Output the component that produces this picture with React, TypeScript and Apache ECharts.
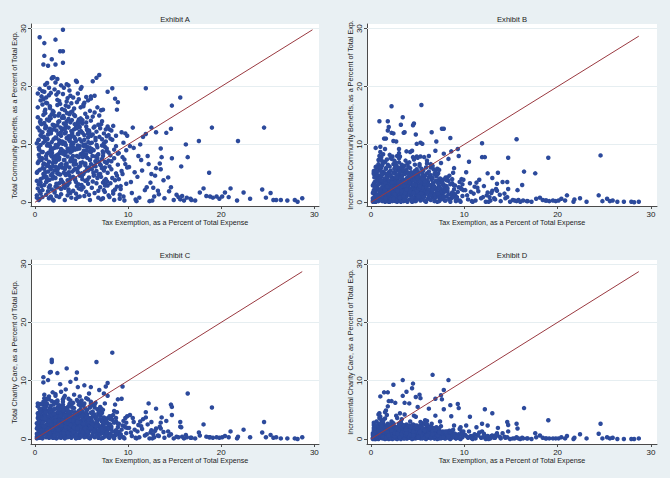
import React, { useEffect, useRef } from "react";
import * as echarts from "echarts";

// Tax exemption (% of total expense), shared by all four exhibits
const TAX_EXEMPTION = [
  0.3, 0.5, 0.8, 0.2, 0.6, 0.9, 0.4, 0.7, 0.3, 0.5,
  0.6, 0.2, 0.8, 0.4, 0.9, 0.5, 0.7, 0.3, 0.6, 0.8,
  0.4, 0.9, 0.2, 0.7, 0.5, 0.3, 0.8, 0.6, 0.4, 0.9,
  0.7, 0.5, 0.3, 0.9, 0.6, 0.2, 0.8, 0.4, 0.7, 0.5,
  0.9, 0.3, 0.6, 0.5, 0.8, 0.4, 0.2, 0.7, 0.9, 0.6,
  1.0, 1.3, 1.6, 1.8, 1.1, 1.4, 1.9, 1.2, 1.7, 1.5,
  1.4, 1.8, 1.1, 1.6, 1.3, 1.9, 1.0, 1.5, 1.2, 1.7,
  1.2, 1.5, 1.9, 1.0, 1.7, 1.3, 1.6, 1.8, 1.1, 1.4,
  1.6, 1.1, 1.4, 1.7, 1.9, 1.2, 1.5, 1.0, 1.8, 1.3,
  1.8, 1.3, 1.0, 1.5, 1.2, 1.6, 1.4, 1.9, 1.1, 1.7,
  1.1, 1.7, 1.5, 1.3, 1.8, 1.0, 1.2, 1.6, 1.4, 1.9,
  1.5, 1.2, 1.8, 1.9, 1.4, 1.7, 1.1, 1.3, 1.6, 1.0,
  2.0, 2.4, 2.7, 2.2, 2.9, 2.5, 2.1, 2.8, 2.3, 2.6,
  2.3, 2.8, 2.1, 2.6, 2.4, 2.0, 2.9, 2.2, 2.7, 2.5,
  2.6, 2.2, 2.5, 2.9, 2.1, 2.7, 2.4, 2.0, 2.8, 2.3,
  2.1, 2.5, 2.8, 2.4, 2.7, 2.3, 2.6, 2.9, 2.0, 2.2,
  2.9, 2.3, 2.0, 2.7, 2.2, 2.6, 2.8, 2.5, 2.4, 2.1,
  2.4, 2.7, 2.2, 2.0, 2.6, 2.9, 2.3, 2.1, 2.5, 2.8,
  2.7, 2.0, 2.6, 2.3, 2.8, 2.2, 2.5, 2.4, 2.9, 2.1,
  3.0, 3.3, 3.7, 3.1, 3.5, 3.9, 3.2, 3.6, 3.4, 3.8,
  3.4, 3.8, 3.0, 3.6, 3.2, 3.7, 3.5, 3.1, 3.9, 3.3,
  3.7, 3.1, 3.4, 3.9, 3.0, 3.5, 3.3, 3.8, 3.2, 3.6,
  3.2, 3.6, 3.9, 3.3, 3.8, 3.0, 3.7, 3.4, 3.5, 3.1,
  3.5, 3.0, 3.2, 3.8, 3.4, 3.6, 3.1, 3.9, 3.7, 3.3,
  3.9, 3.4, 3.6, 3.0, 3.3, 3.1, 3.8, 3.2, 3.6, 3.5,
  3.1, 3.7, 3.5, 3.2, 3.9, 3.4, 3.0, 3.3, 3.8, 3.6,
  4.0, 4.4, 4.7, 4.2, 4.9, 4.5, 4.1, 4.8, 4.3, 4.6,
  4.3, 4.8, 4.1, 4.6, 4.4, 4.0, 4.9, 4.2, 4.7, 4.5,
  4.6, 4.2, 4.5, 4.9, 4.1, 4.7, 4.4, 4.0, 4.8, 4.3,
  4.1, 4.5, 4.8, 4.4, 4.7, 4.3, 4.6, 4.9, 4.0, 4.2,
  4.9, 4.3, 4.0, 4.7, 4.2, 4.6, 4.8, 4.5, 4.4, 4.1,
  4.4, 4.7, 4.2, 4.0, 4.6, 4.9, 4.3, 4.1, 4.5, 4.8,
  5.0, 5.4, 5.7, 5.2, 5.9, 5.5, 5.1, 5.8, 5.3, 5.6,
  5.3, 5.8, 5.1, 5.6, 5.4, 5.0, 5.9, 5.2, 5.7, 5.5,
  5.6, 5.2, 5.5, 5.9, 5.1, 5.7, 5.4, 5.0, 5.8, 5.3,
  5.1, 5.5, 5.8, 5.4, 5.7, 5.3, 5.6, 5.9, 5.0, 5.2,
  5.9, 5.3, 5.0, 5.7, 5.2, 5.6, 5.8, 5.5, 5.4, 5.1,
  6.0, 6.4, 6.7, 6.2, 6.9, 6.5, 6.1, 6.8, 6.3, 6.6,
  6.3, 6.8, 6.1, 6.6, 6.4, 6.0, 6.9, 6.2, 6.7, 6.5,
  6.6, 6.2, 6.5, 6.9, 6.1, 6.7, 6.4, 6.0, 6.8, 6.3,
  6.1, 6.5, 6.8, 6.4, 6.7, 6.3, 6.6, 6.9, 6.0, 6.2,
  7.0, 7.4, 7.7, 7.2, 7.9, 7.5, 7.1, 7.8, 7.3, 7.6,
  7.3, 7.8, 7.1, 7.6, 7.4, 7.0, 7.9, 7.2, 7.7, 7.5,
  7.6, 7.2, 7.5, 7.9, 7.1, 7.7, 7.4, 7.0, 7.8, 7.3,
  7.1, 7.5, 7.8, 7.4, 7.7, 7.3, 7.6, 7.9, 7.0, 7.2,
  8.0, 8.4, 8.7, 8.2, 8.9, 8.5, 8.1, 8.8, 8.3, 8.6,
  8.3, 8.8, 8.1, 8.6, 8.4, 8.0, 8.9, 8.2, 8.7, 8.5,
  8.6, 8.2, 8.5, 8.9, 8.1, 8.7, 8.4, 8.0, 8.8, 8.3,
  9.0, 9.4, 9.7, 9.2, 9.9, 9.5, 9.1, 9.8, 9.3, 9.6,
  9.3, 9.8, 9.1, 9.6, 9.4, 9.0, 9.9, 9.2, 9.7, 9.5,
  10.1, 10.5, 10.9, 11.3, 11.9, 10.3, 11.1, 11.6, 10.7, 11.8,
  10.4, 11.0, 11.5, 10.2, 11.9, 10.8, 11.4, 12.0, 10.6, 11.2,
  12.1, 12.5, 12.9, 13.3, 13.6, 12.3, 13.0, 13.5, 12.7, 13.9,
  12.4, 12.2, 13.2, 13.5, 12.8, 13.4, 12.6, 13.8, 13.0, 12.5,
  14.1, 14.3, 14.6, 14.7, 15.2, 15.6, 15.7, 16.2, 16.4, 16.8,
  14.4, 14.7, 14.9, 15.4, 15.8, 15.6, 16.0, 16.3, 16.7, 14.6,
  17.6, 17.7, 18.1, 18.4, 18.7, 18.8, 19.0, 19.1, 19.5, 20.1,
  20.4, 21.0, 21.7, 21.8, 22.4, 23.1, 24.4, 24.6, 24.8, 25.3,
  25.6, 25.9, 26.4, 27.1, 27.9, 28.2, 28.7, 17.2, 19.8, 20.8,
  0.45, 0.85, 1.22, 1.68, 2.07, 2.43, 2.86, 3.21, 3.64, 4.08,
  4.41, 4.87, 5.26, 5.63, 6.04, 6.48, 6.83, 7.27, 0.62, 1.04,
  1.47, 1.83, 2.26, 2.61, 3.07, 3.44, 3.86, 4.23, 4.66, 5.03,
  5.48, 5.84, 6.27, 6.62, 7.06, 7.43, 0.36, 0.77, 1.13, 1.56,
  1.94, 2.37, 2.73, 3.16, 3.53, 3.97, 4.32, 4.76, 5.14, 5.57,
  5.93, 6.36, 6.74, 7.18, 7.52, 0.54, 0.96, 1.33, 1.76, 2.14,
  2.53, 2.97, 3.34, 3.77, 4.16, 4.52, 4.94, 5.36, 5.73, 6.17,
  6.56, 6.92, 7.33, 7.74, 0.27, 1.26, 2.23, 3.28, 4.27, 5.24,
  1.06, 2.04, 3.03, 4.07, 5.08, 6.02, 1.53, 2.56, 3.57, 4.54,
  1.74, 2.76, 3.73, 4.73, 5.77, 0.83, 1.87, 2.84, 3.83, 4.86,
];

// Exhibit A: total community benefits (% of total expense)
const TOTAL_COMMUNITY_BENEFITS = [
  6.8, 28.5, 12.1, 1.2, 17.6, 4.3, 9.5, 2.8, 14.7, 0.6,
  3.4, 5.1, 19.2, 10.8, 23.8, 1.9, 7.3, 16.4, 11.6, 0.9,
  8.2, 15.1, 3.7, 18.3, 5.6, 12.9, 2.1, 9.9, 0.4, 6.5,
  13.5, 7.8, 18.8, 4.9, 1.5, 10.2, 16.9, 3.1, 8.7, 12.4,
  10.3, 2.4, 14.2, 19.6, 5.9, 7.1, 0.8, 11.4, 17.8, 4.0,
  27.5, 8.4, 12.7, 21.4, 5.2, 23.6, 15.8, 1.3, 9.1, 18.5,
  3.8, 24.7, 10.6, 6.1, 14.3, 21.6, 25.3, 0.7, 17.2, 11.9,
  7.5, 2.6, 13.4, 19.1, 4.7, 11.0, 16.6, 8.9, 20.3, 5.3,
  9.7, 15.4, 1.9, 12.2, 6.8, 3.5, 19.8, 13.7, 7.9, 17.1,
  2.2, 6.3, 11.3, 8.6, 18.1, 14.8, 10.1, 4.1, 16.0, 1.0,
  12.8, 5.7, 14.1, 20.6, 10.4, 3.0, 8.0, 2.9, 6.6, 9.3,
  7.0, 13.0, 15.2, 0.5, 11.7, 18.9, 4.5, 9.8, 16.3, 5.8,
  10.9, 5.0, 26.1, 28.1, 14.6, 8.3, 1.7, 20.2, 12.4, 3.3,
  7.2, 11.5, 19.5, 0.9, 16.8, 4.4, 9.0, 23.8, 6.4, 13.9,
  17.5, 2.7, 10.0, 6.0, 13.1, 8.7, 21.3, 15.6, 3.9, 11.1,
  5.5, 15.0, 1.4, 9.6, 12.0, 18.6, 7.7, 10.5, 21.6, 4.2,
  3.6, 8.1, 12.6, 17.0, 6.9, 14.0, 2.3, 11.8, 5.4, 9.4,
  13.3, 4.8, 20.7, 7.4, 10.7, 16.1, 1.1, 14.9, 19.0, 8.5,
  6.2, 0.3, 15.3, 3.2, 9.2, 11.2, 5.9, 17.7, 12.5, 2.0,
  29.8, 9.9, 4.6, 13.6, 18.0, 7.6, 2.5, 11.4, 20.4, 15.5,
  6.7, 1.6, 26.1, 14.4, 10.3, 19.3, 3.0, 8.8, 12.3, 16.7,
  10.8, 5.1, 17.4, 0.8, 24.1, 7.9, 13.2, 4.0, 11.9, 2.2,
  15.9, 9.0, 11.6, 6.5, 18.4, 12.7, 3.4, 14.0, 1.2, 7.3,
  5.0, 10.4, 8.2, 13.8, 2.9, 16.5, 19.8, 9.6, 6.0, 12.1,
  17.1, 11.1, 1.9, 8.4, 4.7, 14.6, 7.1, 0.4, 12.9, 3.8,
  2.7, 15.2, 9.3, 5.7, 10.0, 6.3, 18.7, 13.5, 8.6, 20.2,
  8.9, 21.0, 3.1, 12.6, 6.8, 17.3, 10.2, 1.0, 14.9, 5.2,
  4.1, 9.7, 18.1, 13.9, 0.6, 7.5, 16.4, 11.3, 2.4, 20.8,
  11.8, 5.6, 8.0, 19.6, 2.0, 14.3, 6.6, 15.7, 12.2, 9.1,
  7.0, 2.8, 13.0, 10.6, 17.8, 3.9, 0.9, 8.3, 12.0, 16.2,
  14.5, 11.0, 5.3, 7.8, 9.4, 18.8, 4.6, 12.8, 1.5, 10.1,
  3.5, 6.1, 15.1, 11.5, 9.8, 2.3, 7.2, 4.4, 13.4, 10.9,
  19.9, 6.4, 11.2, 2.6, 15.8, 9.0, 13.6, 4.3, 17.2, 7.7,
  1.1, 12.4, 8.5, 14.7, 3.7, 10.5, 7.3, 16.6, 5.5, 18.2,
  9.6, 4.9, 13.1, 0.4, 6.9, 11.9, 15.3, 2.2, 8.8, 10.8,
  14.2, 1.8, 6.0, 10.0, 3.2, 8.1, 12.5, 9.4, 5.0, 16.9,
  7.4, 11.6, 3.0, 17.6, 9.9, 5.8, 1.3, 13.8, 6.7, 12.0,
  8.7, 15.5, 4.2, 20.9, 22.0, 10.7, 2.5, 13.4, 6.3, 21.5,
  12.9, 0.8, 9.2, 5.4, 18.4, 14.1, 7.0, 3.6, 16.4, 11.1,
  3.3, 11.7, 7.9, 15.0, 5.7, 9.5, 1.6, 17.9, 8.3, 4.6,
  10.3, 6.2, 2.0, 13.1, 7.6, 9.0, 12.2, 4.8, 18.3, 14.8,
  6.5, 2.1, 11.4, 14.0, 7.2, 9.6, 4.4, 19.1, 0.7, 12.6,
  8.0, 5.1, 15.9, 3.0, 10.2, 12.8, 1.2, 7.5, 9.3, 6.0,
  4.0, 10.9, 1.8, 8.6, 13.5, 6.8, 11.9, 2.6, 13.1, 16.0,
  0.5, 7.0, 2.9, 5.5, 8.9, 3.4, 10.5, 11.6, 4.9, 9.8,
  6.2, 1.5, 9.7, 12.4, 17.3, 7.6, 3.3, 16.0, 19.7, 17.9,
  10.8, 4.6, 8.1, 2.2, 13.2, 0.9, 6.5, 5.7, 11.5, 9.1,
  3.8, 7.1, 0.4, 8.4, 11.0, 5.0, 1.9, 12.6, 2.7, 4.2,
  8.5, 4.9, 11.9, 2.3, 6.0, 10.3, 0.6, 3.2, 12.1, 7.4,
  5.4, 9.0, 1.3, 0.3, 7.8, 4.0, 11.5, 2.8, 6.6, 1.0,
  6.1, 12.9, 0.2, 10.0, 19.7, 3.5, 8.0, 11.3, 5.2, 2.1,
  1.6, 4.4, 5.5, 9.7, 11.8, 0.5, 7.3, 2.6, 9.4, 0.8,
  8.0, 12.9, 4.6, 1.4, 7.8, 0.2, 5.9, 9.3, 2.5, 0.7,
  3.4, 6.6, 2.0, 5.7, 1.0, 6.7, 0.3, 3.8, 12.1, 4.9,
  12.0, 4.3, 12.7, 16.7, 1.3, 18.1, 6.2, 10.0, 7.8, 0.4,
  1.9, 7.6, 0.4, 0.9, 1.1, 0.5, 0.3, 0.8, 0.6, 2.6,
  10.6, 1.7, 2.4, 1.1, 5.1, 1.0, 12.9, 0.8, 1.0, 1.0,
  1.7, 2.4, 0.3, 10.6, 1.7, 0.6, 2.2, 12.9, 0.8, 1.6,
  0.4, 0.4, 0.4, 0.3, 0.4, 0.1, 0.7, 0.3, 0.6, 0.9,
  9.1, 11.3, 4.4, 14.5, 7.9, 2.6, 10.3, 12.7, 5.2, 8.0,
  13.0, 6.3, 9.7, 3.9, 11.5, 7.1, 4.8, 8.8, 13.6, 15.7,
  12.3, 8.5, 6.1, 10.2, 3.3, 15.4, 9.2, 6.9, 11.8, 4.5,
  8.3, 12.1, 5.1, 9.9, 6.4, 3.7, 10.7, 7.6, 13.2, 3.9,
  6.2, 9.5, 12.9, 7.3, 11.0, 14.2, 5.8, 9.3, 7.8, 12.6,
  10.2, 4.7, 8.2, 5.9, 2.9, 13.9, 6.7, 10.9, 12.5, 7.7,
  4.9, 10.1, 8.7, 11.2, 6.5, 9.2, 12.3, 5.3, 10.4, 8.0,
  6.9, 11.3, 8.5, 3.6, 5.3, 4.1, 9.9, 6.1, 13.5, 8.9,
  11.0, 13.3, 14.9, 10.3, 4.0, 6.6, 10.0, 7.4, 9.0, 5.7,
  8.1, 12.0, 10.6, 13.7, 11.8, 8.7, 5.0, 6.6, 7.3, 14.0,
];

// Exhibit B: incremental community benefits
const INCREMENTAL_COMMUNITY_BENEFITS = [
  2.1, 9.4, 4.6, 0.3, 6.2, 1.2, 3.5, 0.6, 5.1, 0.1,
  0.9, 1.6, 7.3, 2.8, 14.0, 0.4, 2.4, 4.9, 3.7, 0.2,
  1.8, 5.6, 0.7, 6.0, 1.3, 3.2, 0.5, 2.6, 0.1, 1.9,
  4.2, 2.0, 5.4, 0.8, 0.2, 2.9, 6.6, 1.0, 3.0, 4.4,
  3.3, 0.6, 4.8, 6.1, 1.4, 2.2, 0.1, 3.8, 8.0, 1.1,
  9.6, 2.5, 4.0, 14.0, 1.1, 11.0, 5.2, 0.2, 3.1, 7.0,
  0.9, 12.4, 3.6, 1.7, 5.3, 13.0, 8.7, 0.1, 6.4, 4.1,
  2.3, 0.6, 4.7, 7.5, 1.2, 3.4, 11.0, 2.8, 7.8, 1.5,
  3.0, 6.0, 0.4, 4.5, 2.0, 0.9, 9.2, 5.5, 2.4, 6.8,
  0.5, 1.8, 3.9, 2.7, 7.1, 5.9, 3.2, 0.8, 6.3, 0.2,
  4.4, 1.3, 5.0, 8.3, 3.5, 0.7, 2.6, 0.3, 1.9, 2.9,
  2.2, 4.8, 6.5, 0.1, 3.8, 7.4, 1.0, 3.1, 5.8, 1.6,
  3.7, 1.4, 10.5, 16.6, 5.6, 2.7, 0.3, 8.0, 4.3, 0.8,
  2.1, 4.0, 7.7, 0.2, 6.6, 1.1, 2.9, 12.0, 1.8, 5.0,
  6.9, 0.6, 3.3, 1.5, 4.6, 2.6, 10.6, 6.2, 0.9, 3.8,
  1.3, 5.8, 0.1, 3.0, 4.2, 7.9, 2.2, 3.6, 8.2, 1.0,
  0.7, 2.5, 4.9, 6.4, 1.9, 5.2, 0.3, 4.1, 1.4, 3.1,
  5.1, 1.2, 7.5, 2.0, 3.4, 6.0, 0.2, 5.5, 7.2, 2.7,
  1.6, 0.1, 6.2, 0.8, 2.9, 4.0, 1.7, 11.9, 4.7, 0.5,
  8.5, 3.1, 1.0, 4.8, 12.0, 2.3, 0.5, 3.7, 14.7, 5.6,
  2.0, 0.3, 7.6, 5.0, 13.4, 7.2, 0.8, 2.7, 4.1, 6.5,
  3.9, 1.4, 6.0, 0.1, 9.2, 2.4, 4.6, 1.1, 3.5, 0.6,
  5.9, 2.8, 4.3, 1.9, 8.8, 4.5, 0.9, 5.3, 0.2, 2.2,
  1.5, 3.6, 2.5, 5.1, 0.7, 6.3, 7.9, 3.0, 1.8, 4.0,
  6.7, 3.8, 0.4, 2.6, 1.2, 5.7, 2.1, 0.1, 4.9, 1.0,
  0.8, 5.4, 3.1, 1.7, 3.6, 2.0, 6.9, 4.4, 2.8, 12.1,
  2.9, 8.9, 0.9, 4.1, 2.2, 13.3, 3.4, 0.2, 5.2, 1.6,
  1.1, 3.3, 6.9, 13.6, 0.1, 2.5, 10.1, 4.0, 0.7, 7.8,
  4.3, 1.7, 2.6, 7.9, 0.5, 5.4, 2.0, 6.1, 4.7, 3.1,
  2.4, 0.8, 5.0, 3.7, 6.5, 1.2, 0.2, 2.9, 4.4, 8.7,
  5.7, 3.9, 1.6, 2.7, 3.2, 7.4, 1.4, 4.8, 0.3, 3.6,
  0.9, 2.1, 5.9, 3.8, 3.0, 0.6, 2.3, 1.3, 4.9, 11.7,
  7.7, 16.8, 4.0, 0.7, 6.0, 3.2, 4.9, 1.4, 10.3, 2.6,
  0.3, 4.6, 2.9, 5.5, 1.1, 3.6, 2.4, 6.3, 1.8, 10.1,
  3.3, 1.6, 4.4, 0.1, 2.2, 4.1, 5.8, 0.6, 3.0, 7.9,
  5.2, 0.5, 2.0, 3.5, 0.9, 2.7, 4.7, 3.4, 1.5, 6.6,
  2.5, 4.2, 0.8, 7.8, 3.8, 1.9, 0.2, 5.1, 2.1, 4.5,
  2.8, 6.0, 1.2, 8.0, 8.9, 12.1, 0.6, 4.9, 2.0, 6.3,
  4.6, 0.2, 3.1, 1.6, 6.6, 5.0, 2.3, 1.0, 5.7, 3.9,
  0.9, 4.3, 2.6, 5.4, 1.8, 3.3, 0.4, 6.7, 2.7, 1.4,
  3.5, 1.9, 0.5, 4.7, 2.5, 3.0, 4.2, 1.3, 7.2, 5.3,
  10.5, 0.6, 3.9, 5.0, 2.4, 3.4, 1.4, 12.7, 0.2, 12.7,
  2.7, 1.7, 5.8, 0.8, 3.6, 4.5, 0.3, 2.5, 3.2, 6.8,
  1.3, 3.8, 0.5, 2.9, 4.8, 2.2, 4.1, 0.9, 8.4, 5.6,
  0.1, 2.3, 1.0, 1.8, 3.0, 1.1, 3.5, 4.0, 1.6, 3.3,
  2.0, 0.5, 3.3, 4.3, 5.9, 11.1, 1.0, 5.1, 7.5, 8.8,
  3.7, 1.5, 2.8, 0.7, 4.6, 0.3, 2.2, 1.9, 4.0, 3.1,
  1.3, 2.4, 0.1, 2.9, 3.8, 1.7, 0.6, 4.3, 0.9, 1.4,
  2.9, 8.0, 4.0, 0.8, 2.1, 3.5, 0.2, 1.1, 9.2, 2.5,
  1.8, 3.1, 0.4, 0.1, 2.6, 1.4, 3.9, 0.9, 2.3, 0.3,
  2.1, 7.0, 0.1, 3.4, 10.2, 1.2, 2.7, 3.9, 1.8, 0.7,
  0.5, 1.5, 1.9, 5.2, 7.8, 0.2, 2.5, 0.9, 3.3, 0.3,
  2.8, 5.0, 1.6, 0.5, 5.1, 0.1, 2.0, 3.2, 0.9, 0.2,
  1.2, 7.8, 0.7, 2.0, 0.3, 2.3, 0.1, 1.3, 4.2, 1.7,
  3.5, 1.5, 3.5, 7.7, 0.4, 10.9, 2.1, 3.0, 5.3, 0.2,
  0.7, 2.3, 0.1, 0.3, 0.4, 0.2, 0.1, 0.3, 0.2, 0.9,
  5.0, 0.6, 0.8, 0.4, 0.3, 0.3, 7.7, 0.2, 0.3, 0.3,
  0.6, 1.2, 0.1, 0.5, 0.7, 0.1, 1.2, 8.1, 0.2, 0.6,
  0.2, 0.3, 0.1, 0.1, 0.1, 0.0, 0.1, 0.1, 0.2, 0.3,
  2.6, 3.9, 1.1, 4.8, 2.9, 0.6, 3.3, 4.2, 1.6, 2.4,
  4.5, 1.9, 3.1, 1.0, 3.8, 2.2, 1.3, 2.7, 5.2, 6.0,
  4.1, 3.0, 1.8, 3.5, 0.8, 5.6, 2.9, 2.0, 3.9, 1.2,
  2.5, 3.6, 1.4, 3.2, 1.9, 0.9, 4.3, 2.3, 5.0, 0.7,
  1.7, 3.4, 4.6, 2.1, 3.7, 5.1, 1.6, 3.0, 2.4, 4.0,
  3.1, 1.2, 2.6, 1.5, 0.6, 5.4, 2.0, 3.6, 4.4, 2.3,
  1.4, 3.5, 2.8, 4.0, 1.8, 3.1, 4.2, 1.5, 3.3, 2.2,
  2.0, 3.7, 2.5, 0.9, 1.8, 1.3, 3.4, 1.9, 4.7, 2.8,
  3.8, 4.6, 5.3, 3.4, 1.0, 1.7, 3.3, 2.4, 2.9, 1.6,
  2.7, 4.3, 3.5, 4.9, 3.6, 3.1, 1.5, 2.0, 2.2, 5.1,
];

// Exhibit C: total charity care
const TOTAL_CHARITY_CARE = [
  2.4, 5.2, 3.9, 0.4, 6.0, 1.1, 2.9, 0.7, 4.4, 0.2,
  1.0, 1.8, 4.8, 3.3, 10.6, 0.5, 2.1, 5.6, 3.0, 0.1,
  1.5, 9.7, 0.9, 5.1, 1.3, 3.6, 0.6, 2.5, 0.2, 2.0,
  4.0, 1.7, 6.1, 0.8, 0.3, 2.7, 5.9, 1.2, 3.4, 4.6,
  3.1, 0.8, 4.2, 3.8, 1.6, 2.2, 0.1, 3.7, 6.4, 1.4,
  7.6, 2.3, 4.5, 13.6, 1.0, 10.1, 5.0, 0.3, 2.8, 6.8,
  1.1, 13.2, 3.2, 1.9, 4.9, 8.0, 7.0, 0.2, 5.6, 11.5,
  2.0, 0.7, 4.1, 5.4, 1.5, 3.7, 11.4, 2.6, 6.6, 1.8,
  3.3, 5.0, 0.5, 4.3, 2.1, 1.2, 7.3, 4.4, 2.9, 6.0,
  0.8, 2.2, 3.5, 2.6, 6.2, 5.3, 3.0, 1.3, 5.8, 0.4,
  4.2, 1.4, 4.7, 6.9, 3.6, 0.9, 2.4, 0.3, 1.7, 2.7,
  2.5, 4.6, 6.5, 0.2, 3.9, 5.7, 1.2, 3.1, 4.9, 1.6,
  3.4, 1.6, 9.4, 7.7, 4.8, 2.5, 0.4, 8.1, 4.0, 1.0,
  2.2, 3.8, 6.3, 0.3, 11.3, 1.3, 2.9, 7.4, 1.9, 4.5,
  5.8, 0.7, 3.1, 1.7, 4.3, 2.6, 6.6, 5.1, 1.0, 3.6,
  1.5, 5.5, 0.2, 2.8, 4.1, 6.2, 2.0, 3.3, 5.9, 1.1,
  0.9, 2.7, 4.4, 5.3, 1.8, 4.9, 0.5, 3.9, 1.4, 3.0,
  4.6, 1.2, 5.2, 2.1, 3.5, 4.8, 0.1, 4.2, 5.6, 2.4,
  1.8, 0.2, 5.0, 0.9, 2.6, 3.8, 1.6, 6.4, 3.2, 0.6,
  6.8, 2.9, 1.1, 4.3, 5.4, 2.0, 0.6, 3.5, 12.1, 9.8,
  2.2, 0.4, 5.9, 4.6, 7.4, 6.0, 0.8, 2.5, 3.7, 8.5,
  3.6, 1.3, 5.2, 0.2, 6.4, 2.1, 4.1, 1.0, 3.3, 0.5,
  5.3, 2.7, 3.9, 1.8, 6.6, 4.2, 0.9, 4.8, 0.3, 2.0,
  1.4, 3.2, 2.4, 4.5, 0.7, 5.6, 7.1, 2.8, 1.7, 3.7,
  5.8, 3.4, 0.4, 2.3, 1.1, 4.9, 2.0, 0.1, 4.3, 1.0,
  0.7, 4.7, 2.9, 1.5, 3.1, 1.9, 5.5, 3.9, 2.6, 6.9,
  2.6, 10.3, 0.8, 3.7, 2.0, 11.4, 3.0, 0.2, 4.6, 1.5,
  1.0, 3.0, 6.2, 8.9, 0.1, 2.3, 5.7, 3.6, 0.6, 6.7,
  3.9, 1.6, 2.4, 6.3, 0.5, 4.8, 1.8, 5.4, 4.2, 2.8,
  2.1, 0.7, 4.5, 3.3, 5.9, 1.1, 0.2, 2.6, 4.0, 7.6,
  5.1, 3.5, 1.4, 2.4, 2.9, 6.5, 1.3, 4.3, 0.3, 3.2,
  0.8, 1.9, 5.3, 3.4, 2.7, 0.5, 2.1, 1.2, 4.4, 7.3,
  6.6, 4.2, 3.6, 0.6, 5.4, 2.9, 4.4, 1.3, 9.2, 2.3,
  0.3, 7.8, 2.6, 5.0, 1.0, 3.2, 2.2, 5.7, 1.6, 7.0,
  3.0, 1.4, 4.0, 0.1, 2.0, 3.7, 5.2, 0.5, 2.7, 6.1,
  4.7, 0.4, 1.8, 3.1, 0.8, 2.4, 4.2, 3.0, 1.3, 5.9,
  2.2, 3.8, 0.7, 6.8, 3.4, 1.7, 0.2, 4.6, 1.9, 4.1,
  8.9, 5.4, 1.1, 5.8, 8.4, 6.2, 0.5, 4.4, 1.8, 13.2,
  4.1, 0.2, 2.8, 1.4, 5.9, 4.5, 2.1, 0.9, 5.1, 3.5,
  0.8, 3.9, 2.3, 4.8, 1.6, 3.0, 0.3, 6.0, 2.4, 1.2,
  3.1, 1.7, 0.4, 4.2, 2.2, 2.7, 3.8, 1.1, 6.4, 4.7,
  5.5, 7.8, 3.5, 4.5, 2.1, 3.0, 1.2, 9.6, 0.2, 9.0,
  2.4, 1.5, 5.2, 0.7, 3.2, 4.0, 0.3, 2.2, 2.9, 6.1,
  1.1, 3.4, 0.4, 2.6, 4.3, 1.9, 3.7, 0.8, 7.4, 5.0,
  0.1, 2.0, 0.9, 1.6, 2.7, 1.0, 3.1, 3.6, 1.4, 3.0,
  1.8, 0.4, 3.0, 3.9, 6.8, 4.8, 0.9, 4.6, 14.8, 5.9,
  3.3, 1.3, 2.5, 0.6, 4.1, 0.2, 2.0, 1.7, 3.6, 2.8,
  1.2, 2.1, 0.1, 2.6, 3.4, 1.5, 0.5, 3.9, 0.8, 1.3,
  2.6, 9.0, 3.6, 0.7, 1.9, 3.1, 0.2, 1.0, 6.9, 2.2,
  1.6, 2.8, 0.4, 0.1, 2.3, 1.2, 3.9, 0.8, 2.0, 0.3,
  1.9, 3.6, 0.1, 3.0, 4.6, 1.1, 2.4, 3.4, 1.6, 0.6,
  0.5, 1.3, 1.7, 4.1, 3.7, 0.2, 2.2, 0.8, 2.9, 0.3,
  2.5, 2.9, 1.4, 0.5, 3.7, 0.1, 1.8, 2.8, 0.8, 0.2,
  1.1, 6.1, 0.6, 1.8, 0.3, 2.1, 0.1, 1.2, 5.2, 1.5,
  3.1, 1.3, 5.9, 5.5, 0.4, 2.9, 2.0, 0.7, 7.8, 0.2,
  0.6, 4.1, 0.1, 0.3, 0.4, 2.1, 0.1, 0.3, 0.2, 0.8,
  1.1, 0.6, 2.5, 0.4, 0.3, 0.3, 5.4, 0.2, 0.3, 0.3,
  0.5, 1.3, 0.1, 0.4, 1.6, 0.3, 1.1, 2.9, 0.3, 0.7,
  0.2, 0.3, 0.1, 0.1, 0.1, 0.0, 0.3, 0.1, 0.2, 0.3,
  2.9, 3.5, 1.3, 4.5, 2.6, 0.8, 3.7, 4.0, 1.9, 2.5,
  4.2, 2.1, 3.4, 1.2, 3.6, 2.4, 1.5, 2.9, 4.8, 5.4,
  3.8, 2.7, 2.0, 3.2, 1.0, 5.0, 3.1, 2.2, 3.6, 1.4,
  2.8, 3.3, 1.6, 3.0, 2.1, 1.1, 4.0, 2.5, 4.6, 0.9,
  1.9, 3.1, 4.3, 2.4, 3.4, 4.7, 1.8, 2.8, 2.6, 3.7,
  2.9, 1.4, 2.3, 1.7, 0.8, 5.1, 2.2, 3.3, 4.1, 2.5,
  1.6, 3.2, 2.6, 3.8, 2.0, 2.9, 3.9, 1.7, 3.0, 2.4,
  2.2, 3.4, 2.7, 1.1, 2.0, 1.5, 3.1, 2.1, 4.4, 2.6,
  3.5, 4.3, 4.9, 3.1, 1.2, 1.9, 3.0, 2.6, 2.7, 1.8,
  2.5, 4.0, 3.2, 4.6, 3.3, 2.8, 1.7, 2.3, 2.4, 4.8,
];

// Exhibit D: incremental charity care
const INCREMENTAL_CHARITY_CARE = [
  0.9, 2.2, 1.6, 0.1, 3.0, 0.4, 1.2, 0.2, 1.9, 0.0,
  0.3, 0.7, 2.5, 1.4, 4.4, 0.1, 0.8, 2.8, 1.1, 0.0,
  0.5, 3.6, 0.2, 2.0, 0.6, 1.5, 0.1, 0.9, 0.0, 0.7,
  1.7, 0.6, 2.4, 0.2, 0.1, 1.0, 4.2, 0.3, 1.3, 2.0,
  1.2, 0.2, 1.8, 1.5, 0.5, 0.8, 0.0, 1.4, 2.6, 0.4,
  7.3, 0.8, 1.9, 8.0, 0.3, 8.0, 2.2, 0.1, 1.0, 4.6,
  0.4, 5.6, 1.3, 0.6, 2.1, 6.5, 3.8, 0.0, 2.6, 4.1,
  0.7, 0.2, 1.6, 2.3, 0.5, 1.4, 4.9, 0.9, 3.3, 0.6,
  1.1, 2.0, 0.1, 1.7, 0.8, 0.4, 3.5, 1.8, 1.2, 2.7,
  0.2, 0.9, 1.4, 1.0, 2.9, 2.3, 1.1, 0.4, 2.4, 0.1,
  1.5, 0.5, 1.9, 3.1, 1.3, 0.2, 0.8, 0.1, 0.7, 1.0,
  0.9, 1.8, 2.6, 0.0, 1.5, 2.1, 0.4, 1.2, 1.7, 0.6,
  1.3, 0.5, 4.0, 6.5, 1.9, 0.9, 0.1, 3.6, 1.5, 0.3,
  0.8, 1.4, 2.5, 0.1, 9.3, 0.4, 1.0, 3.0, 0.6, 1.7,
  6.2, 0.2, 1.2, 0.6, 1.6, 0.9, 2.7, 2.0, 0.3, 1.4,
  0.5, 2.1, 0.0, 1.0, 1.5, 2.4, 0.7, 1.2, 2.2, 0.4,
  0.3, 1.0, 1.6, 2.0, 0.6, 1.8, 0.1, 1.4, 0.5, 1.1,
  1.7, 0.4, 1.9, 0.7, 1.2, 1.8, 0.0, 1.5, 2.1, 0.8,
  0.6, 0.1, 1.9, 0.3, 0.9, 1.4, 0.5, 2.5, 1.1, 0.2,
  2.6, 1.0, 0.4, 1.6, 2.0, 0.7, 0.2, 6.2, 10.1, 8.1,
  7.4, 0.1, 2.2, 1.7, 2.9, 2.3, 0.3, 0.9, 1.3, 3.4,
  1.3, 0.5, 2.0, 0.1, 2.4, 0.8, 1.5, 0.3, 1.2, 0.2,
  2.0, 1.0, 1.4, 0.6, 2.5, 1.6, 0.3, 1.8, 0.1, 0.7,
  0.5, 1.2, 0.9, 1.7, 0.2, 2.1, 4.4, 1.0, 0.6, 1.4,
  2.2, 1.3, 0.1, 0.8, 0.4, 1.8, 0.7, 0.0, 1.6, 0.3,
  0.2, 1.7, 1.1, 0.5, 1.2, 0.7, 2.0, 1.5, 0.9, 4.2,
  1.0, 8.7, 0.3, 1.4, 0.7, 9.5, 6.1, 0.1, 1.7, 0.5,
  0.4, 7.2, 2.3, 4.0, 0.0, 0.9, 2.1, 1.3, 0.2, 2.5,
  1.5, 0.6, 0.9, 2.3, 0.2, 1.7, 0.7, 2.0, 1.6, 1.0,
  0.8, 0.3, 1.6, 1.2, 2.2, 0.4, 0.1, 0.9, 1.5, 3.0,
  1.9, 1.3, 0.5, 0.9, 1.1, 2.4, 0.5, 1.6, 0.1, 1.2,
  0.3, 0.7, 1.9, 1.2, 1.0, 0.2, 0.8, 0.4, 1.6, 3.8,
  5.5, 2.0, 1.3, 0.2, 1.9, 1.0, 1.6, 0.5, 7.0, 0.8,
  0.1, 3.2, 0.9, 1.8, 0.3, 1.1, 0.7, 7.6, 0.5, 2.7,
  1.0, 0.5, 1.4, 0.0, 0.7, 1.2, 2.3, 0.2, 0.9, 2.9,
  1.7, 0.1, 0.6, 1.0, 0.3, 0.8, 1.5, 1.1, 0.4, 2.2,
  0.7, 1.3, 0.2, 2.6, 1.2, 0.6, 0.1, 1.8, 0.5, 1.4,
  3.1, 2.2, 0.4, 5.2, 6.9, 2.6, 0.2, 1.7, 0.6, 11.0,
  1.5, 0.1, 1.0, 0.5, 2.1, 1.6, 0.8, 0.3, 1.9, 1.2,
  0.3, 1.4, 0.8, 4.0, 0.6, 1.1, 0.1, 2.3, 0.9, 0.4,
  1.1, 0.6, 0.1, 1.5, 0.8, 1.0, 1.3, 0.4, 2.5, 1.8,
  2.0, 3.0, 1.3, 1.6, 0.7, 7.5, 0.4, 8.4, 0.1, 6.8,
  0.9, 0.5, 1.9, 0.2, 1.1, 1.4, 0.1, 0.8, 1.0, 2.2,
  0.4, 1.2, 0.1, 0.9, 1.5, 0.6, 1.3, 0.3, 5.1, 1.7,
  0.0, 0.7, 0.3, 0.5, 0.9, 0.3, 1.1, 1.2, 0.5, 1.0,
  0.6, 0.1, 1.0, 1.3, 2.3, 5.8, 0.3, 1.6, 10.1, 3.9,
  1.1, 0.4, 0.8, 0.2, 1.4, 0.1, 0.7, 0.6, 1.2, 0.9,
  0.4, 0.7, 0.0, 0.9, 1.1, 0.5, 0.2, 1.3, 0.3, 0.4,
  0.9, 5.3, 1.3, 0.2, 0.6, 1.7, 0.1, 0.3, 6.0, 2.0,
  0.5, 1.0, 0.1, 0.0, 0.8, 0.4, 1.3, 0.3, 0.7, 0.1,
  0.7, 1.3, 0.0, 2.0, 2.6, 0.4, 0.8, 1.1, 0.5, 0.2,
  0.2, 0.5, 0.6, 2.3, 1.3, 0.1, 0.7, 0.3, 3.8, 0.1,
  0.9, 2.3, 0.5, 0.2, 1.9, 0.0, 0.6, 1.0, 0.3, 0.1,
  0.4, 5.1, 0.2, 0.6, 0.1, 0.7, 0.0, 0.4, 4.4, 0.5,
  1.0, 0.4, 2.9, 2.4, 0.1, 2.6, 1.8, 0.2, 5.3, 0.1,
  0.2, 1.3, 0.0, 0.1, 0.1, 0.3, 0.0, 0.1, 0.1, 0.3,
  1.0, 0.3, 0.6, 0.2, 0.1, 0.1, 3.2, 0.1, 0.1, 0.1,
  0.3, 0.5, 0.0, 0.2, 0.8, 0.1, 0.9, 2.6, 0.1, 0.3,
  0.1, 0.2, 0.0, 0.0, 0.0, 0.0, 0.1, 0.0, 0.1, 0.1,
  1.1, 1.6, 0.4, 2.0, 1.2, 0.2, 1.5, 1.8, 0.7, 1.0,
  1.9, 0.8, 1.4, 0.3, 1.6, 0.9, 0.5, 1.2, 2.2, 2.6,
  1.7, 1.2, 0.7, 1.4, 0.3, 2.4, 1.3, 0.8, 1.6, 0.4,
  1.0, 1.5, 0.5, 1.3, 0.7, 0.3, 1.8, 1.0, 2.1, 0.2,
  0.7, 1.4, 1.9, 0.9, 1.5, 2.2, 0.6, 1.2, 1.0, 1.7,
  1.3, 0.4, 1.0, 0.6, 0.2, 2.3, 0.8, 1.5, 1.9, 1.0,
  0.5, 1.5, 1.1, 1.7, 0.7, 1.2, 1.8, 0.6, 1.4, 0.9,
  0.8, 1.6, 1.1, 0.3, 0.6, 0.4, 1.4, 0.8, 2.0, 1.2,
  1.6, 2.0, 2.3, 1.4, 0.3, 0.6, 1.4, 1.0, 1.2, 0.6,
  1.1, 1.9, 1.5, 2.1, 1.5, 1.3, 0.6, 0.9, 1.0, 2.2,
];

const PANEL_TITLES = ["Exhibit A", "Exhibit B", "Exhibit C", "Exhibit D"];
const Y_TITLES = [
  "Total Community Benefits, as a Percent of Total Exp.",
  "Incremental Community Benefits, as a Percent of Total Exp.",
  "Total Charity Care, as a Percent of Total Exp.",
  "Incremental Charity Care, as a Percent of Total Exp.",
];
const X_TITLE = "Tax Exemption, as a Percent of Total Expense";
const TICKS = [0, 10, 20, 30];
const GRID_TICKS = [10, 20, 30];
// 45-degree reference line end point (x = y) for each exhibit
const DIAGONAL_END = [29.8, 28.7, 28.7, 28.7];

const Y_SERIES = [
  TOTAL_COMMUNITY_BENEFITS,
  INCREMENTAL_COMMUNITY_BENEFITS,
  TOTAL_CHARITY_CARE,
  INCREMENTAL_CHARITY_CARE,
];

const FONT = '"Liberation Sans", Arial, Helvetica, sans-serif';
const BG = "#E9F0F3";
const MARKER = "#2C4A9C";
const LINE = "#9A3940";
const AXIS = "#4a4a4a";
const TEXT = "#222222";

const GRIDS = [
  { left: 31, top: 24, width: 288, height: 182 },
  { left: 367, top: 24, width: 290, height: 182 },
  { left: 31, top: 260, width: 288, height: 184 },
  { left: 367, top: 260, width: 290, height: 184 },
];
const X_RANGES = [
  [-0.43, 30.5],
  [-0.43, 30.65],
  [-0.43, 30.5],
  [-0.43, 30.65],
];
const Y_RANGES = [
  [-0.64, 30.8],
  [-0.64, 30.8],
  [-0.86, 30.69],
  [-0.86, 30.69],
];

export default function App() {
  const ref = useRef<HTMLDivElement>(null);

  useEffect(() => {
    if (!ref.current) return;
    const chart = echarts.init(ref.current, undefined, { renderer: "svg" });

    const n = TAX_EXEMPTION.length;
    const grid = GRIDS.map((g) => ({
      ...g,
      show: true,
      backgroundColor: "#ffffff",
      borderWidth: 0,
      z: 0,
    }));

    const xAxis = GRIDS.map((_, i) => ({
      type: "value",
      gridIndex: i,
      min: X_RANGES[i][0],
      max: X_RANGES[i][1],
      axisLine: { show: true, onZero: false, lineStyle: { color: AXIS, width: 1 } },
      axisTick: { show: true, length: 3, customValues: TICKS, lineStyle: { color: AXIS } },
      axisLabel: {
        customValues: TICKS,
        fontSize: 8,
        color: TEXT,
        fontFamily: FONT,
        margin: 4,
      },
      splitLine: { show: false },
      name: X_TITLE,
      nameLocation: "middle",
      nameGap: 12,
      nameTextStyle: { fontSize: 7.2, color: TEXT, fontFamily: FONT },
    }));

    const yAxis = GRIDS.map((_, i) => ({
      type: "value",
      gridIndex: i,
      min: Y_RANGES[i][0],
      max: Y_RANGES[i][1],
      axisLine: { show: true, onZero: false, lineStyle: { color: AXIS, width: 1 } },
      axisTick: { show: true, length: 3, customValues: TICKS, lineStyle: { color: AXIS } },
      axisLabel: {
        customValues: TICKS,
        fontSize: 8,
        color: TEXT,
        fontFamily: FONT,
        rotate: 90,
        margin: 4,
      },
      splitLine: { show: false },
      name: Y_TITLES[i],
      nameLocation: "middle",
      nameRotate: 90,
      nameGap: 12,
      nameTextStyle: { fontSize: 7.2, color: TEXT, fontFamily: FONT },
    }));

    const series: any[] = [];
    GRIDS.forEach((_, i) => {
      const ys = Y_SERIES[i];
      const pts: number[][] = [];
      for (let k = 0; k < Math.min(n, ys.length); k++) pts.push([TAX_EXEMPTION[k], ys[k]]);
      series.push({
        type: "line",
        xAxisIndex: i,
        yAxisIndex: i,
        data: [],
        z: 1,
        silent: true,
        markLine: {
          z: 1,
          silent: true,
          symbol: "none",
          label: { show: false },
          lineStyle: { color: "#E6EEF1", width: 1, type: "solid" },
          data: GRID_TICKS.map((t) => ({ yAxis: t })),
        },
      });
      series.push({
        type: "scatter",
        xAxisIndex: i,
        yAxisIndex: i,
        data: pts,
        symbol: "circle",
        symbolSize: 4.5,
        itemStyle: { color: MARKER, opacity: 1 },
        z: 3,
        silent: true,
      });
      series.push({
        type: "line",
        xAxisIndex: i,
        yAxisIndex: i,
        data: [
          [0, 0],
          [DIAGONAL_END[i], DIAGONAL_END[i]],
        ],
        showSymbol: false,
        symbol: "none",
        lineStyle: { color: LINE, width: 1 },
        z: 4,
        silent: true,
      });
    });

    const graphic = GRIDS.map((g, i) => ({
      type: "text",
      x: g.left + g.width / 2,
      y: g.top - 5,
      style: {
        text: PANEL_TITLES[i],
        align: "center",
        verticalAlign: "middle",
        fontSize: 7.6,
        fontFamily: FONT,
        fill: TEXT,
      },
    }));

    chart.setOption({
      animation: false,
      backgroundColor: BG,
      grid,
      xAxis,
      yAxis,
      series,
      graphic,
    });

    return () => chart.dispose();
  }, []);

  return (
    <div
      ref={ref}
      style={{ position: "fixed", left: 0, top: 0, width: 670, height: 478, background: BG }}
    />
  );
}
